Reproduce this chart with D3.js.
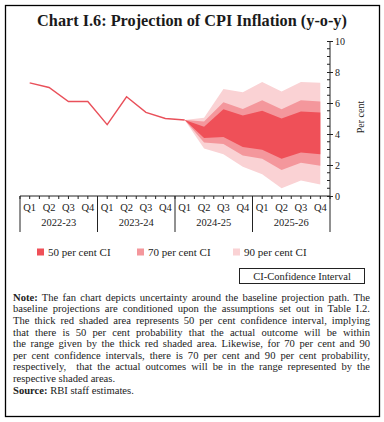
<!DOCTYPE html>
<html>
<head>
<meta charset="utf-8">
<script src="https://cdn.jsdelivr.net/npm/d3@7"></script>
<style>
  html, body { margin: 0; padding: 0; background: #fff; }
  svg { display: block; }
</style>
</head>
<body>
<div id="chart"></div>
<script>
// ---- data ----
const quarters = ["Q1","Q2","Q3","Q4","Q1","Q2","Q3","Q4","Q1","Q2","Q3","Q4","Q1","Q2","Q3","Q4"];
const years = ["2022-23","2023-24","2024-25","2025-26"];
const actual = [7.3, 7.0, 6.1, 6.1, 4.6, 6.4, 5.4, 5.0, 4.9];
const fanStart = 8;
const upper90 = [4.9, 5.05, 6.9, 6.7, 7.35, 6.75, 7.35, 7.3];
const upper70 = [4.9, 4.8, 6.05, 5.62, 6.18, 5.6, 6.18, 6.1];
const upper50 = [4.9, 4.47, 5.6, 5.2, 5.5, 5.0, 5.45, 5.38];
const lower50 = [4.9, 3.75, 3.8, 3.16, 2.98, 2.4, 2.8, 2.7];
const lower70 = [4.9, 3.45, 3.35, 2.62, 2.4, 1.68, 2.15, 1.95];
const lower90 = [4.9, 3.07, 2.7, 1.89, 1.4, 0.5, 1.0, 0.75];
const yTicks = [0, 2, 4, 6, 8, 10];
const legendLabels = ["50 per cent CI", "70 per cent CI", "90 per cent CI"];
const noteLines = [
  "The fan chart depicts uncertainty around the baseline projection path. The",
  "baseline projections are conditioned upon the assumptions set out in Table I.2.",
  "The thick red shaded area represents 50 per cent confidence interval, implying",
  "that there is 50 per cent probability that the actual outcome will be within",
  "the range given by the thick red shaded area. Likewise, for 70 per cent and 90",
  "per cent confidence intervals, there is 70 per cent and 90 per cent probability,",
  "respectively,  that the actual outcomes will be in the range represented by the",
  "respective shaded areas."
];
const sourceText = "RBI staff estimates.";

// ---- styles ----
const W = 384, H = 422;
const serif = "'Liberation Serif', 'DejaVu Serif', serif";
const cDark = "#ef5058", cMid = "#f4979c", cLight = "#fad2d4", cLine = "#e9505a";

const svg = d3.select("#chart").append("svg").attr("width", W).attr("height", H);

// frame
svg.append("rect").attr("x", 5.5).attr("y", 5.5).attr("width", 374).attr("height", 411)
  .attr("fill", "none").attr("stroke", "#000").attr("stroke-width", 1.3);

// title
const title = svg.append("text").attr("x", 192).attr("y", 26).attr("text-anchor", "middle")
  .attr("font-family", serif).attr("font-weight", "bold").attr("font-size", 16)
  .attr("fill", "#1a1a1a").text("Chart I.6: Projection of CPI Inflation (y-o-y)");
{
  const w = title.node().getComputedTextLength();
  title.attr("font-size", 16 * 310 / w);
}

// scales
const x = d3.scaleBand().domain(d3.range(quarters.length)).range([20, 330]).padding(0);
const cx = i => x(i) + x.bandwidth() / 2;
const y = d3.scaleLinear().domain([0, 10]).range([196, 41]);

// fan
const idx = d3.range(fanStart, quarters.length);
const bands = [
  { up: upper90, lo: lower90, c: cLight },
  { up: upper70, lo: lower70, c: cMid },
  { up: upper50, lo: lower50, c: cDark }
];
const area = d3.area().x(d => cx(d.i)).y0(d => y(d.lo)).y1(d => y(d.up));
bands.forEach(b => {
  const pts = idx.map((i, k) => ({ i, up: b.up[k], lo: b.lo[k] }));
  svg.append("path").attr("d", area(pts)).attr("fill", b.c);
});

// actual line
const line = d3.line().x((d, i) => cx(i)).y(d => y(d));
svg.append("path").attr("d", line(actual)).attr("fill", "none")
  .attr("stroke", cLine).attr("stroke-width", 1.4);

// y axis (right)
const yAxisG = svg.append("g").attr("transform", "translate(330,0)");
yAxisG.call(d3.axisRight(y).tickValues(yTicks).tickSize(3).tickFormat(d3.format("d")))
  .call(g => g.select(".domain").remove())
  .call(g => g.selectAll(".tick text").attr("font-family", serif).attr("font-size", 10)
      .attr("fill", "#222").attr("x", 5))
  .call(g => g.selectAll(".tick line").attr("x1", -3).attr("x2", 3).attr("stroke", "#222"));
yAxisG.append("line").attr("x1", 0).attr("x2", 0).attr("y1", y(10)).attr("y2", y(0))
  .attr("stroke", "#222").attr("stroke-width", 1);
yAxisG.selectAll(".minor").data(d3.range(0, 10.01, 0.5).filter(v => v % 2 !== 0))
  .join("line").attr("class", "minor")
  .attr("x1", -3).attr("x2", 0).attr("y1", d => y(d)).attr("y2", d => y(d))
  .attr("stroke", "#222").attr("stroke-width", 1);
svg.append("text").attr("transform", "translate(364,117) rotate(-90)")
  .attr("text-anchor", "middle").attr("font-family", serif).attr("font-size", 10)
  .attr("fill", "#222").text("Per cent");

// x axis
const xAxisG = svg.append("g").attr("transform", "translate(0,196)");
xAxisG.call(d3.axisBottom(x).tickSize(0).tickFormat(i => quarters[i]))
  .call(g => g.select(".domain").remove())
  .call(g => g.selectAll(".tick text").attr("font-family", serif).attr("font-size", 10.5)
      .attr("fill", "#222").attr("dy", 0).attr("y", 15));
xAxisG.append("line").attr("x1", 20).attr("x2", 330).attr("y1", 0).attr("y2", 0)
  .attr("stroke", "#222");
const halfTicks = d3.range(0, quarters.length * 2 + 1).map(k => 20 + k * x.bandwidth() / 2);
xAxisG.selectAll(".qt").data(halfTicks).join("line").attr("class", "qt")
  .attr("x1", d => d).attr("x2", d => d).attr("y1", 0).attr("y2", 3).attr("stroke", "#222");
const yearW = x.bandwidth() * 4;
xAxisG.selectAll(".ysep").data(d3.range(years.length + 1)).join("line").attr("class", "ysep")
  .attr("x1", d => 20 + d * yearW).attr("x2", d => 20 + d * yearW)
  .attr("y1", 0).attr("y2", 36).attr("stroke", "#222");
xAxisG.selectAll(".ylab").data(years).join("text").attr("class", "ylab")
  .attr("x", (d, i) => 20 + (i + 0.5) * yearW).attr("y", 30)
  .attr("text-anchor", "middle").attr("font-family", serif).attr("font-size", 10.5)
  .attr("fill", "#222").text(d => d);

// legend
const legColors = [cDark, cMid, cLight];
const legX = [37, 137, 233];
legendLabels.forEach((lab, i) => {
  svg.append("rect").attr("x", legX[i]).attr("y", 248.5).attr("width", 7).attr("height", 7)
    .attr("fill", legColors[i]);
  svg.append("text").attr("x", legX[i] + 11).attr("y", 255.5).attr("font-family", serif)
    .attr("font-size", 11).attr("fill", "#222").text(lab);
});

// CI box
svg.append("rect").attr("x", 239.5).attr("y", 268.5).attr("width", 125).attr("height", 15)
  .attr("fill", "none").attr("stroke", "#222").attr("stroke-width", 1);
svg.append("text").attr("x", 302).attr("y", 279.5).attr("text-anchor", "middle")
  .attr("font-family", serif).attr("font-size", 10.5).attr("fill", "#222")
  .text("CI-Confidence Interval");

// note
const noteX = 13, noteW = 357, baseY = 300.7, lh = 11.6;
noteLines.forEach((ln, i) => {
  const t = svg.append("text").attr("x", noteX).attr("y", baseY + i * lh)
    .attr("font-family", serif).attr("font-size", 10.6).attr("fill", "#222")
    .style("white-space", "pre");
  if (i === 0) {
    t.append("tspan").attr("font-weight", "bold").text("Note:");
    t.append("tspan").text(" " + ln);
  } else {
    t.append("tspan").text(ln);
  }
  if (i < noteLines.length - 1) {
    const full = (i === 0 ? "Note: " : "") + ln;
    const spaces = (full.match(/ /g) || []).length;
    const w = t.node().getComputedTextLength();
    if (spaces > 0 && w < noteW) t.attr("word-spacing", (noteW - w) / spaces);
    else if (w > noteW) t.attr("textLength", noteW).attr("lengthAdjust", "spacingAndGlyphs");
  }
});
const src = svg.append("text").attr("x", noteX).attr("y", baseY + noteLines.length * lh)
  .attr("font-family", serif).attr("font-size", 10.6).attr("fill", "#222");
src.append("tspan").attr("font-weight", "bold").text("Source:");
src.append("tspan").text(" " + sourceText);
</script>
</body>
</html>
